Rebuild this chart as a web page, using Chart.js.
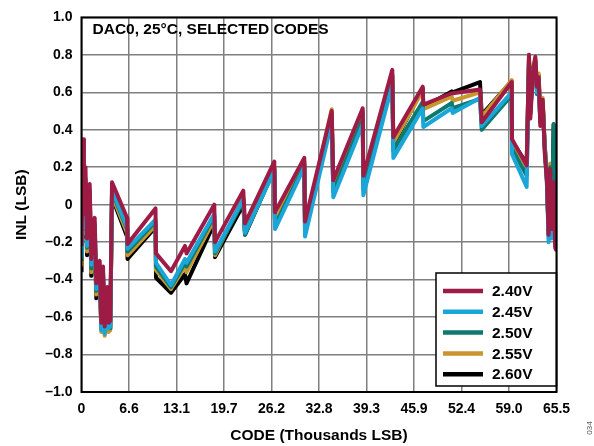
<!DOCTYPE html>
<html>
<head>
<meta charset="utf-8">
<script src="https://cdn.jsdelivr.net/npm/chart.js@4.4.0/dist/chart.umd.min.js"></script>
<style>
  html, body { margin: 0; padding: 0; background: #fff; }
  #chart { display: block; }
</style>
</head>
<body>
<canvas id="chart" width="594" height="446"></canvas>
<script>
// INL vs code, DAC0 at 25°C, selected codes, five reference voltages

// code, in thousands of LSB
const codeK = [
  0.00, 0.21, 0.34, 0.55, 0.76, 1.13, 1.35, 1.59, 1.82, 2.04, 2.28, 2.51, 2.73, 2.97, 3.20, 3.56, 3.75, 3.97, 4.21,
  6.28, 6.35, 10.21, 10.28, 12.35, 14.28, 14.49, 18.32, 18.42, 22.32, 22.56, 26.60, 26.70, 30.74, 30.84,
  34.52, 34.74, 38.80, 38.88, 42.88, 43.02, 47.08, 47.16, 51.08, 51.21, 54.98, 55.22, 59.36, 59.40, 61.42,
  61.74, 61.92, 62.29, 62.61, 62.84, 63.08, 63.30, 63.63, 63.91, 64.22, 64.45, 64.67, 64.90, 65.14, 65.36, 65.45
];

const inl240 = [
  -0.22, 0.35, -0.05, 0.20, -0.18, 0.11, -0.29, -0.10, -0.07, -0.42, -0.31, -0.30, -0.63, -0.33, -0.65, -0.44, -0.63, -0.62, 0.12,
  -0.07, -0.21, -0.02, -0.26, -0.355, -0.22, -0.26, 0.00, -0.20, 0.075, -0.10, 0.23, -0.04, 0.25, -0.09,
  0.50, 0.13, 0.515, 0.155, 0.72, 0.36, 0.63, 0.535, 0.595, 0.595, 0.615, 0.44, 0.655, 0.35, 0.21,
  0.80, 0.46, 0.70, 0.79, 0.63, 0.68, 0.42, 0.56, 0.28, 0.12, -0.16, 0.19, -0.13, 0.12, -0.23, -0.24
];

const inl245 = [
  -0.28, 0.17, -0.12, 0.14, -0.22, 0.08, -0.32, -0.14, -0.10, -0.45, -0.34, -0.33, -0.67, -0.36, -0.69, -0.47, -0.66, -0.65, 0.08,
  -0.12, -0.235, -0.08, -0.31, -0.43, -0.29, -0.31, -0.05, -0.25, 0.03, -0.15, 0.18, -0.13, 0.20, -0.17,
  0.44, 0.04, 0.43, 0.05, 0.64, 0.25, 0.515, 0.415, 0.515, 0.49, 0.57, 0.42, 0.60, 0.27, 0.095,
  0.75, 0.50, 0.72, 0.75, 0.60, 0.66, 0.45, 0.52, 0.30, 0.10, -0.20, 0.15, -0.18, 0.10, -0.22, -0.21
];

const inl250 = [
  -0.30, 0.17, -0.13, 0.13, -0.23, 0.07, -0.34, -0.15, -0.11, -0.46, -0.35, -0.34, -0.66, -0.37, -0.68, -0.48, -0.66, -0.66, 0.07,
  -0.13, -0.25, -0.09, -0.33, -0.44, -0.31, -0.33, -0.06, -0.26, 0.02, -0.16, 0.19, -0.11, 0.21, -0.15,
  0.47, 0.07, 0.46, 0.08, 0.66, 0.29, 0.55, 0.446, 0.543, 0.515, 0.565, 0.40, 0.585, 0.30, 0.155,
  0.76, 0.48, 0.73, 0.76, 0.59, 0.67, 0.44, 0.54, 0.32, 0.13, -0.17, 0.20, -0.10, 0.43, -0.18, 0.38
];

const inl255 = [
  -0.33, 0.12, -0.15, 0.10, -0.25, 0.05, -0.36, -0.18, -0.14, -0.48, -0.37, -0.36, -0.68, -0.39, -0.70, -0.50, -0.68, -0.67, 0.05,
  -0.15, -0.27, -0.11, -0.35, -0.45, -0.33, -0.36, -0.08, -0.27, 0.04, -0.15, 0.20, -0.09, 0.23, -0.12,
  0.51, 0.10, 0.50, 0.12, 0.70, 0.33, 0.61, 0.51, 0.578, 0.555, 0.60, 0.47, 0.665, 0.34, 0.20,
  0.80, 0.50, 0.74, 0.78, 0.62, 0.70, 0.45, 0.57, 0.33, 0.15, -0.15, 0.22, -0.12, 0.15, -0.20, -0.20
];

const inl260 = [
  -0.36, 0.10, -0.17, 0.08, -0.27, 0.03, -0.38, -0.20, -0.16, -0.50, -0.38, -0.37, -0.66, -0.38, -0.68, -0.49, -0.67, -0.66, 0.04,
  -0.17, -0.29, -0.12, -0.39, -0.47, -0.37, -0.42, -0.10, -0.28, 0.00, -0.16, 0.19, -0.10, 0.22, -0.13,
  0.49, 0.09, 0.49, 0.11, 0.69, 0.32, 0.62, 0.52, 0.605, 0.60, 0.655, 0.48, 0.66, 0.34, 0.22,
  0.78, 0.49, 0.73, 0.77, 0.61, 0.69, 0.44, 0.55, 0.31, 0.14, -0.16, 0.20, -0.11, 0.43, -0.21, 0.30
];

const seriesLabels = ['2.40V', '2.45V', '2.50V', '2.55V', '2.60V'];
const seriesColors = ['#9e1b45', '#1aa6d9', '#0e7a6f', '#c9962e', '#000000'];
const seriesValues = [inl240, inl245, inl250, inl255, inl260];

const xTickValues = [0, 6.5536, 13.1072, 19.6608, 26.2144, 32.768, 39.3216, 45.8752, 52.4288, 58.9824, 65.536];
const xTickLabels = ['0', '6.6', '13.1', '19.7', '26.2', '32.8', '39.3', '45.9', '52.4', '59.0', '65.5'];

const FONT = '"Liberation Sans", Arial, sans-serif';

// text, legend box and frame drawn on top of the plot
const decorations = {
    id: 'decorations',
    afterDraw(chart) {
        const ctx = chart.ctx;
        const a = chart.chartArea;
        ctx.save();

        ctx.fillStyle = '#000';
        ctx.font = 'bold 15.5px ' + FONT;
        ctx.textBaseline = 'middle';
        ctx.textAlign = 'left';
        ctx.fillText('DAC0, 25°C, SELECTED CODES', a.left + 11, 30);

        // legend box
        const bx = 436, by = 273;
        ctx.fillStyle = '#fff';
        ctx.fillRect(bx, by, a.right - bx, 113);
        ctx.strokeStyle = '#000';
        ctx.lineWidth = 1.5;
        ctx.strokeRect(bx, by, a.right - bx, 113);
        chart.data.datasets.forEach((ds, i) => {
            const y = 291 + i * 20.8;
            ctx.strokeStyle = ds.borderColor;
            ctx.lineWidth = 4.5;
            ctx.beginPath();
            ctx.moveTo(443, y);
            ctx.lineTo(483, y);
            ctx.stroke();
            ctx.fillStyle = '#000';
            ctx.fillText(ds.label, 492, y + 1);
        });

        // frame
        ctx.strokeStyle = '#000';
        ctx.lineWidth = 2;
        ctx.strokeRect(a.left, a.top, a.right - a.left, a.bottom - a.top);

        // axis titles
        ctx.fillStyle = '#000';
        ctx.font = 'bold 15.5px ' + FONT;
        ctx.textAlign = 'center';
        ctx.fillText('CODE (Thousands LSB)', (a.left + a.right) / 2, 436);
        ctx.save();
        ctx.translate(22, (a.top + a.bottom) / 2);
        ctx.rotate(-Math.PI / 2);
        ctx.fillText('INL (LSB)', 0, 0);
        ctx.restore();

        // figure number, cut at the edge
        ctx.save();
        ctx.fillStyle = '#555';
        ctx.font = '8px ' + FONT;
        ctx.translate(590, 428);
        ctx.rotate(-Math.PI / 2);
        ctx.fillText('034', 0, 0);
        ctx.restore();

        ctx.restore();
    }
};

const datasets = seriesValues.map((vals, i) => ({
    label: seriesLabels[i],
    data: codeK.map((k, j) => ({ x: k, y: vals[j] })),
    borderColor: seriesColors[i],
    backgroundColor: seriesColors[i],
    borderWidth: 4,
    borderJoinStyle: 'round',
    pointRadius: 0,
    tension: 0,
    fill: false
}));

new Chart(document.getElementById('chart'), {
    type: 'line',
    data: { datasets: datasets },
    options: {
        responsive: false,
        animation: false,
        devicePixelRatio: 1,
        layout: { padding: { left: 0, right: 37.5, top: 13.5, bottom: 0 } },
        plugins: {
            legend: { display: false },
            tooltip: { enabled: false }
        },
        scales: {
            x: {
                type: 'linear',
                min: 0,
                max: 65.536,
                afterBuildTicks: (scale) => {
                    scale.ticks = xTickValues.map(v => ({ value: v }));
                },
                afterFit: (scale) => { scale.height = 54; },
                grid: { color: '#7f7f7f', lineWidth: 1.5, drawTicks: false },
                border: { display: false },
                ticks: {
                    padding: 9,
                    color: '#000',
                    maxRotation: 0,
                    autoSkip: false,
                    font: { family: FONT, size: 14, weight: 'bold' },
                    callback: (value, index) => xTickLabels[index]
                }
            },
            y: {
                min: -1,
                max: 1,
                afterFit: (scale) => { scale.width = 81.5; },
                grid: { color: '#7f7f7f', lineWidth: 1.5, drawTicks: false },
                border: { display: false },
                ticks: {
                    stepSize: 0.2,
                    padding: 9,
                    color: '#000',
                    font: { family: FONT, size: 14, weight: 'bold' },
                    callback: (value) => {
                        if (Math.abs(value) < 1e-9) return '0';
                        return value.toFixed(1).replace('-', '–');
                    }
                }
            }
        }
    },
    plugins: [decorations]
});
</script>
</body>
</html>
